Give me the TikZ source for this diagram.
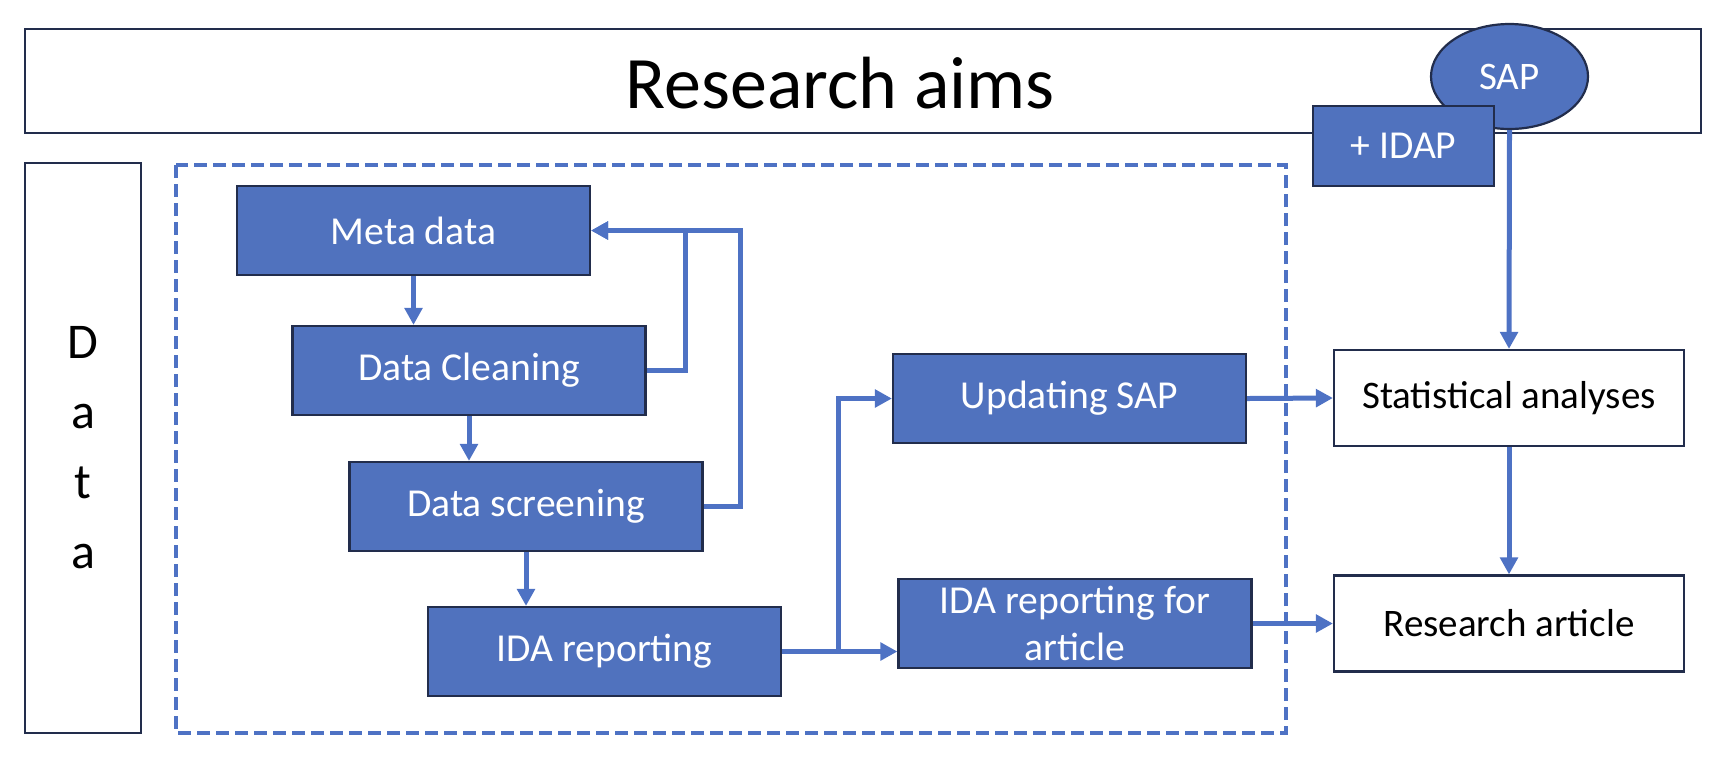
\documentclass[tikz,border=0pt]{standalone}
\usepackage{fontspec}
\setmainfont{Carlito}
\usetikzlibrary{arrows.meta,shapes.geometric}
\definecolor{boxblue}{RGB}{80,114,190}
\definecolor{boxline}{RGB}{34,45,76}
\definecolor{flowblue}{RGB}{78,114,196}

\begin{document}
\begin{tikzpicture}[x=0.5pt,y=-0.5pt,
	stepbox/.style={shape=rectangle,draw=boxline,fill=boxblue,line width=1.1pt,text=white,minimum width=176.5pt,minimum height=44.5pt,inner sep=0pt,align=center,font=\fontsize{19.8}{23.5}\selectfont},
	outbox/.style={shape=rectangle,draw=boxline,line width=1.1pt,minimum width=175pt,minimum height=48pt,inner sep=0pt,font=\fontsize{19.5}{23}\selectfont},
	flow/.style={draw=flowblue,line width=2.5pt,-{Triangle[length=8.5pt,width=8.7pt]}}]
	\useasboundingbox (0,0) rectangle (1728,768);

	\draw[flowblue,line width=2.3pt,dash pattern=on 6.5pt off 3pt] (176,165) rectangle (1286,733);

	\node[shape=rectangle,draw=boxline,line width=1.1pt,minimum width=838pt,minimum height=52pt] (aims) at (863,81) {};
	\node[font=\fontsize{37}{44}\selectfont] (aimstext) at (840,83) {Research aims};
	\node[shape=ellipse,draw=boxline,fill=boxblue,line width=1.1pt,text=white,minimum width=78.5pt,minimum height=52.5pt,inner sep=0pt,font=\fontsize{19.5}{23}\selectfont] (sap) at (1509.5,76.5) {SAP};
	\node[stepbox,minimum width=90.5pt,minimum height=40pt] (idap) at (1403.5,146) {+ IDAP};
	\node[shape=rectangle,draw=boxline,line width=1.1pt,minimum width=58pt,minimum height=285pt,align=center,font=\fontsize{25}{35}\selectfont] (data) at (83,448) {D\\a\\t\\a};

	\node[stepbox] (meta)   at (413.5,230.5) {Meta data};
	\node[stepbox] (clean)  at (469,370.5)   {Data Cleaning};
	\node[stepbox] (screen) at (526,506.5)   {Data screening};
	\node[stepbox] (idarep) at (604.5,651.5) {IDA reporting};
	\node[stepbox] (upsap)  at (1069.5,398.5) {Updating SAP};
	\node[stepbox] (idaart) at (1075,623.5)  {IDA reporting for\\article};
	\node[outbox]  (stat)   at (1509,398)    {Statistical analyses};
	\node[outbox]  (resart) at (1509,623.5)  {Research article};

	\draw[flow] (meta.south) -- (meta.south |- clean.north);
	\draw[flow] (clean.south) -- (clean.south |- screen.north);
	\draw[flow] (screen.south) -- (screen.south |- idarep.north);
	\draw[flow] (clean.east) -- ++(39,0) |- (meta.east);
	\draw[flow] (screen.east) -- ++(37,0) |- (meta.east);
	\draw[flow] (idarep.east) -- (idarep.east -| idaart.west);
	\draw[flow] (idarep.east) -- ++(56,0) |- (upsap.west);
	\draw[flow] (upsap.east) -- (stat.west);
	\draw[flow] (idaart.east) -- (resart.west);
	\draw[flow] (sap.south) -- (stat.north);
	\draw[flow] (stat.south) -- (resart.north);
\end{tikzpicture}
\end{document}
